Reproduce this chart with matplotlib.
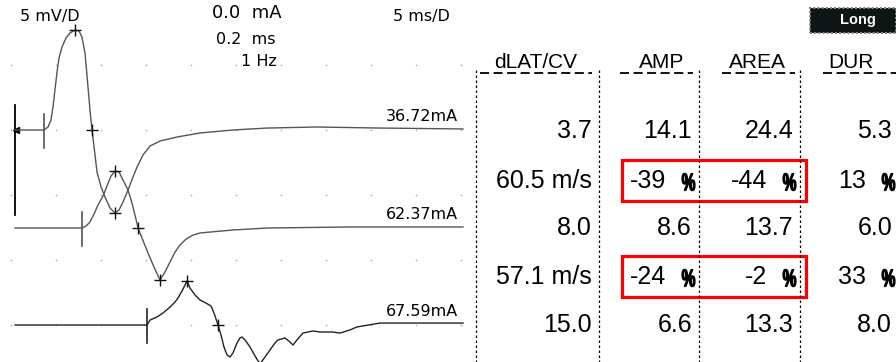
import matplotlib
matplotlib.use('Agg')
import matplotlib.pyplot as plt
from matplotlib.patches import Rectangle, PathPatch
from matplotlib.textpath import TextPath
from matplotlib.font_manager import FontProperties
from matplotlib.transforms import Affine2D
import numpy as np

W, H = 896, 362

# --- waveforms: time (ms) and amplitude (mV, relative to baseline) ---
t1 = [0, 3.22, 3.67, 4.0, 4.22, 4.44, 4.67, 4.89, 5.22, 5.67, 6.11, 6.67, 7.11, 7.44,
      7.78, 8.11, 8.33, 8.56, 8.89, 9.11, 9.56, 10.0, 10.56, 11.11, 11.56, 12.0, 12.56,
      13.11, 13.56, 14.22, 15.0, 16.11, 18.0, 20.56, 24.22, 28.0, 33.56, 40.56, 49.78]
v1 = [0, 0, 0.23, 0.77, 1.77, 3.08, 4.46, 5.54, 6.38, 7.08, 7.46, 7.69, 7.62, 7.15,
      5.92, 3.31, 1.54, 0, -1.92, -3.23, -4.38, -5.15, -6.0, -6.38, -6.15, -5.54, -4.62,
      -3.62, -2.85, -1.92, -1.23, -0.85, -0.54, -0.23, 0, 0.15, 0.23, 0.15, 0.08]

t2 = [0, 7.44, 7.89, 8.33, 8.78, 9.22, 9.78, 10.22, 10.67, 11.11, 11.56, 12.0, 12.56,
      13.0, 13.33, 13.67, 14.11, 14.78, 15.44, 16.11, 16.67, 17.22, 17.78, 18.33, 19.0,
      19.78, 20.56, 24.22, 28.0, 37.22, 49.78]
v2 = [0, 0, 0.15, 0.46, 1.08, 1.77, 2.46, 3.23, 4.0, 4.38, 4.31, 3.69, 2.92,
      1.92, 1.0, 0, -0.77, -1.92, -3.0, -4.0, -3.38, -2.62, -1.85, -1.31, -0.85,
      -0.54, -0.38, -0.15, 0, 0.08, 0.08]

t3 = [0, 14.67, 15.0, 15.78, 16.44, 17.22, 17.78, 18.11, 18.56, 19.11, 19.44, 20.0,
      20.56, 21.22, 21.78, 22.11, 22.56, 22.89, 23.22, 23.56, 23.89, 24.22, 24.67, 25.0,
      25.22, 25.56, 26.11, 26.67, 27.22, 27.78, 28.33, 28.89, 29.22, 30.0, 30.56, 30.89,
      31.33, 32.0, 33.11, 33.89, 35.33, 36.11, 37.22, 38.0, 40.56, 49.78]
v3 = [0, 0, 0.38, 0.62, 0.92, 1.38, 1.77, 2.08, 2.62, 3.38, 2.85, 2.31,
      1.92, 1.69, 1.46, 0.92, 0, -0.77, -1.69, -2.31, -2.46, -2.15, -1.38, -1.0,
      -0.92, -1.15, -1.69, -2.38, -3.0, -2.46, -1.92, -1.38, -1.15, -1.0, -1.31, -1.54,
      -1.15, -0.62, -0.46, -0.54, -0.54, -0.62, -0.38, -0.15, 0.15, 0.15]

traces = [(t1, v1), (t2, v2), (t3, v3)]
offsets = [-10.0, -17.54, -25.0]          # mV position of each baseline
onsets = [3.22, 7.44, 14.67]               # ms
cursors = [[6.67, 8.56, 11.11], [11.11, 13.67, 16.11], [19.11, 22.56]]
stim_labels = ['36.72mA', '62.37mA', '67.59mA']
trace_colors = ['#555555', '#555555', '#222222']

# --- result table ---
headers = ['dLAT/CV', 'AMP', 'AREA', 'DUR']
dlat_cv = ['3.7', '60.5 m/s', '8.0', '57.1 m/s', '15.0']
amp = ['14.1', '-39', '8.6', '-24', '6.6']
area = ['24.4', '-44', '13.7', '-2', '13.3']
dur = ['5.3', '13', '6.0', '33', '8.0']
pct_rows = [1, 3]
boxed_rows = [1, 3]

FONT = ['Liberation Sans', 'DejaVu Sans']
SCREEN = ['DejaVu Sans']


def fx(x):
    return x / W


def fy(y):
    return 1 - y / H


fig = plt.figure(figsize=(W / 100, H / 100), dpi=100)
fig.patch.set_facecolor('white')

# waveform axes (ms / mV)
ax = fig.add_axes([0, 0, 1, 1])
ax.set_xlim(-15 / 9, (W - 15) / 9)
ax.set_ylim(-H / 13, 0)
ax.axis('off')

# pixel overlay for the narrow percent signs
axp = fig.add_axes([0, 0, 1, 1])
axp.set_xlim(0, W)
axp.set_ylim(H, 0)
axp.axis('off')
axp.patch.set_alpha(0)

# grid dots
gx, gy = np.meshgrid(np.arange(-0.5, 50, 5), np.arange(-5, -26, -5))
ax.scatter(gx.ravel(), gy.ravel(), s=1.5, color='#b0b0b0', lw=0)

# stimulus artefact
ax.plot([0, 0], [-105 / 13, -215 / 13], color='black', lw=1.3)
ax.plot(0.1, offsets[0], marker='<', color='black', ms=4)

for (t, v), off, on, cur, lab, c in zip(traces, offsets, onsets, cursors,
                                        stim_labels, trace_colors):
    t = np.array(t)
    v = np.array(v) + off
    ax.plot(t, v, color=c, lw=1.0, clip_on=True)
    ax.plot([on, on], [off + 1.2, off - 1.35], color=c, lw=1.2)
    cy = np.interp(cur, t, v)
    ax.plot(cur, cy, ls='none', marker='+', ms=9, mew=1.0, color='#111111')
    ax.text(49.2, off + 0.45, lab, ha='right', va='bottom', fontsize=11.5,
            family=SCREEN)

# settings text
fig.text(fx(20), fy(17), '5 mV/D', fontsize=11.5, va='center', family=SCREEN)
fig.text(fx(212), fy(13), '0.0  mA', fontsize=13, va='center', family=SCREEN)
fig.text(fx(216), fy(39), '0.2  ms', fontsize=11.5, va='center', family=SCREEN)
fig.text(fx(277), fy(61), '1 Hz', fontsize=11.5, va='center', ha='right', family=SCREEN)
fig.text(fx(393), fy(17), '5 ms/D', fontsize=11.5, va='center', family=SCREEN)

# "Long" badge
fig.patches.append(Rectangle((fx(810), fy(33)), fx(86), 25 / H, transform=fig.transFigure,
                             facecolor='#0d1614', edgecolor='#888888', lw=1.5,
                             ls=(0, (1, 1))))
fig.text(fx(858), fy(20), 'Long', color='white', fontsize=10.5, fontweight='bold',
         ha='center', va='center', family=FONT)

# table
col_right = [592, 692, 793, 892]
head_x = [536, 662, 757, 851]
uline = [(480, 592), (620, 693), (722, 795), (823, 896)]
sep_x = [476, 599, 699, 800]
row_y = [131, 181, 228, 277, 325]
columns = [dlat_cv, amp, area, dur]

for name, hx, (u0, u1) in zip(headers, head_x, uline):
    fig.text(fx(hx), fy(63), name, fontsize=15, ha='center', va='center', family=FONT)
    fig.add_artist(plt.Line2D([fx(u0), fx(u1)], [fy(73), fy(73)], color='black',
                              lw=1.3, ls=(0, (5, 2.5)), transform=fig.transFigure))

for sx in sep_x:
    fig.add_artist(plt.Line2D([fx(sx), fx(sx)], [fy(70), fy(H)], color='black',
                              lw=0.9, ls=(0, (2, 2)), transform=fig.transFigure))

pct_path = TextPath((0, 0), '%', size=25,
                    prop=FontProperties(family='Liberation Sans', weight='bold'))
pe = pct_path.get_extents()


def draw_pct(x_right, y_mid):
    tr = (Affine2D().translate(-pe.x1, -(pe.y0 + pe.y1) / 2)
          .scale(0.62, -0.98).translate(x_right, y_mid) + axp.transData)
    axp.add_patch(PathPatch(pct_path, transform=tr, facecolor='black',
                            edgecolor='black', lw=0.9))


for ci, (col, xr) in enumerate(zip(columns, col_right)):
    for ri, (val, yy) in enumerate(zip(col, row_y)):
        if ci > 0 and ri in pct_rows:
            fig.text(fx(xr - 26), fy(yy), val, fontsize=18, ha='right', va='center',
                     family=FONT)
            draw_pct(xr + 3, yy + 1)
        else:
            fig.text(fx(xr), fy(yy), val, fontsize=18, ha='right', va='center',
                     family=FONT)

for ri in boxed_rows:
    yc = row_y[ri]
    fig.patches.append(Rectangle((fx(622), fy(yc + 20)), fx(806 - 622), 41 / H,
                                 transform=fig.transFigure, facecolor='none',
                                 edgecolor='#ff0000', lw=2.3))

fig.savefig('out.png', dpi=100, facecolor='white')
